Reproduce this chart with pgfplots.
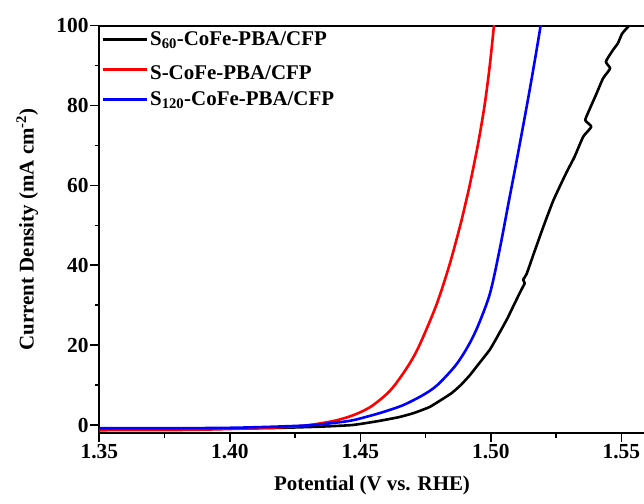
\documentclass[border=0pt]{standalone}
\usepackage{fontspec}
\setmainfont{Liberation Serif}
\usepackage{pgfplots}
\pgfplotsset{compat=1.18}
\begin{document}
\begin{tikzpicture}
\begin{axis}[
  scale only axis, width=545.5bp, height=407.3bp,
  xmin=1.35, xmax=1.559, ymin=-2, ymax=100,
  axis x line*=box, axis y line*=left,
  xtick={1.35,1.40,1.45,1.50,1.55},
  minor xtick={1.375,1.425,1.475,1.525},
  ytick={0,20,40,60,80,100},
  minor ytick={10,30,50,70,90},
  xtick pos=bottom, ytick pos=left,
  tick align=outside,
  major tick length=9bp, minor tick length=4.5bp,
  every tick/.style={line width=1.6bp, black},
  axis line style={line width=2bp, black},
  /pgf/number format/assume math mode=true,
  ticklabel style={font=\fontsize{21.5}{25}\selectfont\bfseries},
  yticklabel style={inner sep=1.5bp},
  xticklabel style={inner sep=2bp, /pgf/number format/.cd, fixed, fixed zerofill, precision=2},
  label style={font=\fontsize{21}{25}\selectfont\bfseries},
  xlabel={Potential (V vs. RHE)},
  ylabel={Current Density (mA cm\textsuperscript{-2})},
  xlabel style={at={(axis description cs:0.5,-0.14)}, anchor=base},
  ylabel style={at={(axis description cs:-0.132,0.5)}, anchor=center},
  legend style={at={(axis description cs:0.003,0.99)}, anchor=north west,
    draw=none, fill=none, inner sep=0pt, row sep=7bp,
    font=\fontsize{21}{25}\selectfont\bfseries,
    nodes={inner sep=2bp}},
  legend cell align=left,
  legend image code/.code={\draw[#1,line width=3bp] (0bp,0bp) -- (44bp,0bp);},
  every axis plot/.append style={line width=2.6bp, line join=round, smooth, tension=0.5},
]
\addplot[black, tension=0.3] coordinates {
(1.350,-1.0) (1.380,-1.0) (1.400,-0.9) (1.420,-0.7) (1.435,-0.4) (1.447,0.0)
(1.457,1.0) (1.465,2.0) (1.4705,3.0) (1.4765,4.5) (1.4815,6.5) (1.4850,8.0)
(1.4885,10.0) (1.4920,12.5) (1.4950,15.0) (1.4995,18.75) (1.5018,21.3) (1.5062,26.5)
(1.5088,30.0) (1.5118,34.0) (1.5130,35.5) (1.5124,36.4) (1.5137,37.8) (1.5165,43.0)
(1.5201,49.6) (1.5240,56.3) (1.5288,63.0) (1.5321,67.2) (1.5354,72.2) (1.5385,74.7)
(1.5362,76.3) (1.5374,78.4) (1.5405,83.0) (1.5430,86.8) (1.5457,89.3) (1.5441,91.0)
(1.5468,93.9) (1.5487,95.6) (1.5503,98.0) (1.5530,100) (1.5565,102)
};
\addlegendentry{S\textsubscript{60}-CoFe-PBA/CFP}
\addplot[red] coordinates {
(1.350,-1.3) (1.380,-1.25) (1.400,-1.0) (1.4215,-0.5) (1.4306,0) (1.4397,1)
(1.44526,2) (1.44934,3) (1.45246,4) (1.45496,5) (1.45968,7.5) (1.46320,10)
(1.46852,15) (1.47267,20) (1.47910,30) (1.48412,40) (1.48829,50) (1.4905,56)
(1.4919,60) (1.4950,70) (1.4976,80) (1.4996,90) (1.5012,100) (1.5018,104)
};
\addlegendentry{\rule{0pt}{21bp}S-CoFe-PBA/CFP}
\addplot[blue] coordinates {
(1.350,-0.8) (1.380,-0.8) (1.400,-0.7) (1.410,-0.55) (1.420,-0.35) (1.432,0.0)
(1.4455,1.0) (1.452,2.0) (1.459,3.3) (1.4665,5.0) (1.4740,7.5) (1.4795,10)
(1.4866,15) (1.4915,20) (1.4952,25) (1.4997,33) (1.5034,44) (1.5069,56)
(1.50955,65) (1.51241,75) (1.51519,85) (1.51782,95) (1.51907,100) (1.5197,103)
};
\addlegendentry{S\textsubscript{120}-CoFe-PBA/CFP}
\end{axis}
\pgfresetboundingbox
\path (-99.3bp,-71bp) rectangle (544.7bp,433bp);
\end{tikzpicture}
\end{document}
